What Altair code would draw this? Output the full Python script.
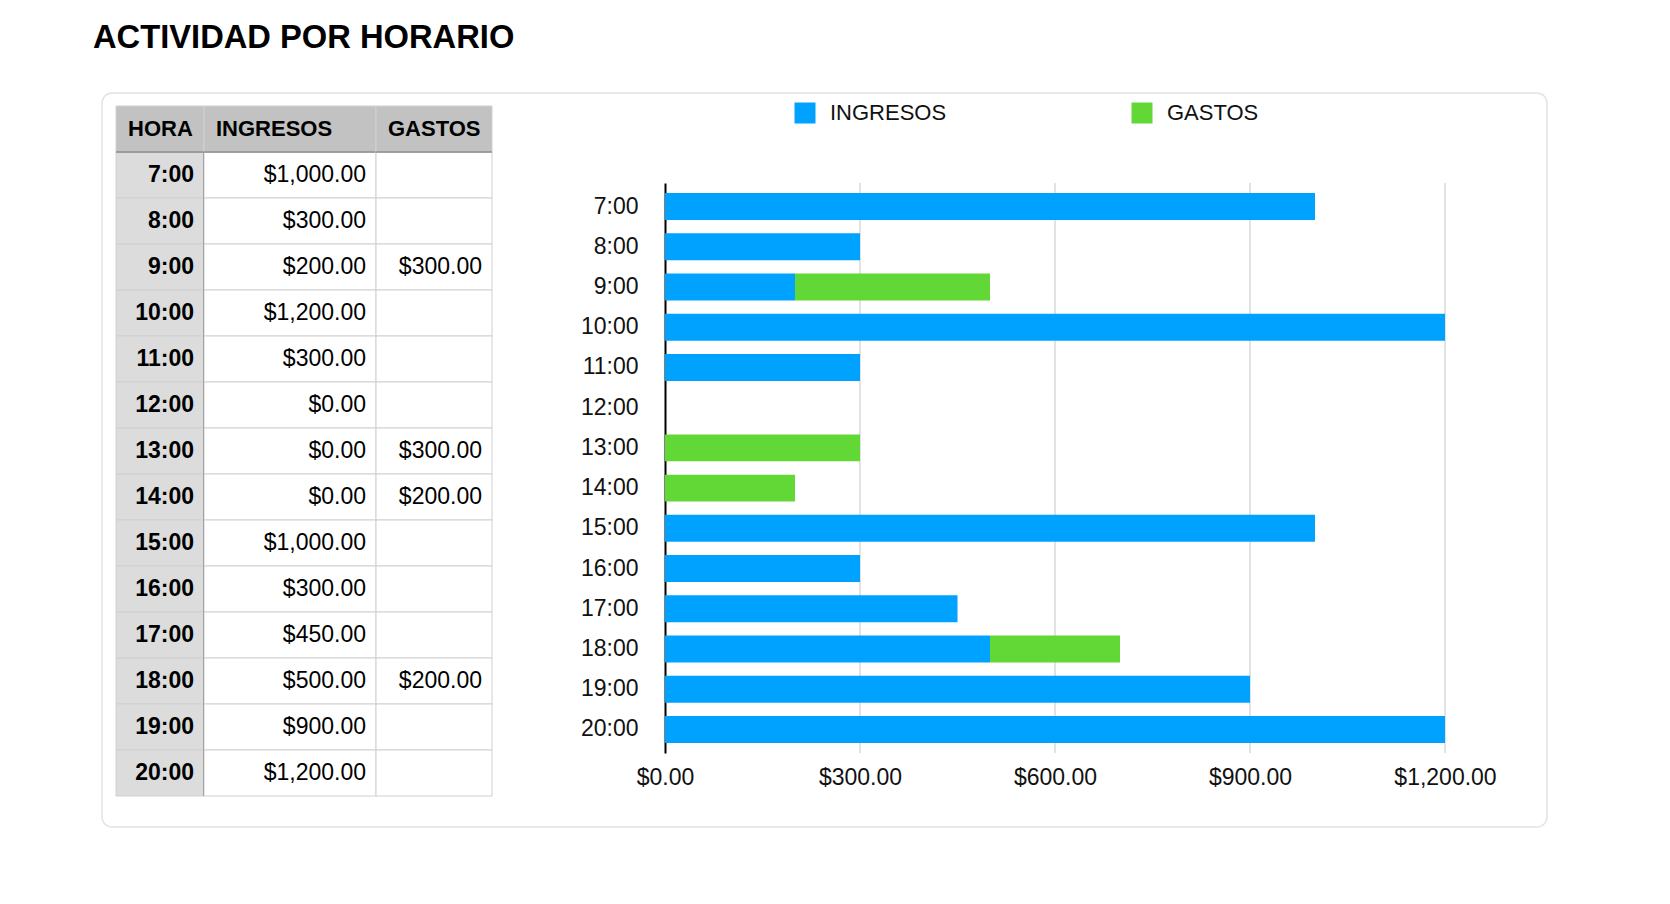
import altair as alt
import pandas as pd

# ---------------- data ----------------
horas = ["7:00", "8:00", "9:00", "10:00", "11:00", "12:00", "13:00",
         "14:00", "15:00", "16:00", "17:00", "18:00", "19:00", "20:00"]
ingresos = [1000, 300, 200, 1200, 300, 0, 0, 0, 1000, 300, 450, 500, 900, 1200]
gastos = [None, None, 300, None, None, None, 300, 200, None, None, None, 200, None, None]
series = ["INGRESOS", "GASTOS"]
colores = ["#00a2ff", "#61d836"]
cabeceras = ["HORA", "INGRESOS", "GASTOS"]
ticks_x = [0, 300, 600, 900, 1200]
titulo = "ACTIVIDAD POR HORARIO"

FONT = "Liberation Sans"
ROW_H = 46
filas = ["__cab__"] + horas
TABLE_H = ROW_H * len(filas)


def money(v):
    return "" if v is None else "${:,.2f}".format(v)


def table_column(header, cells, width, body_fill, body_bold, first=False, gap=0):
    df = pd.DataFrame({
        "fila": filas,
        "texto": [header] + cells,
        "tipo": ["header"] + ["body"] * len(cells),
    })
    ysc = alt.Y("fila:N", sort=filas, axis=None,
                scale=alt.Scale(paddingInner=0, paddingOuter=0))
    base = alt.Chart(df).encode(y=ysc)
    rects = base.mark_rect(stroke="#d0d0d0", strokeWidth=1).encode(
        x=alt.value(0), x2=alt.value(width),
        fill=alt.condition("datum.tipo == 'header'", alt.value("#c1c2c1"), alt.value(body_fill)),
    )
    head = base.transform_filter("datum.tipo == 'header'").mark_text(
        align="left", baseline="middle", font=FONT, fontSize=22, fontWeight="bold", color="#000"
    ).encode(x=alt.value(12), text="texto:N")
    body = base.transform_filter("datum.tipo == 'body'").mark_text(
        align="right", baseline="middle", font=FONT, fontSize=23,
        fontWeight="bold" if body_bold else "normal", color="#000"
    ).encode(x=alt.value(width - 10), text="texto:N")
    one = alt.Chart(pd.DataFrame({"k": [0]}))
    hline = one.mark_rule(color="#8a8a8a", strokeWidth=1.5).encode(
        x=alt.value(0), x2=alt.value(width), y=alt.value(ROW_H))
    layers = [rects, head, body, hline]
    if first:
        card = one.mark_rect(fill="white", stroke="#e3e3e3", strokeWidth=1.5, cornerRadius=10).encode(
            x=alt.value(-14), x2=alt.value(1431), y=alt.value(-13), y2=alt.value(721))
        vline = one.mark_rule(color="#555555", strokeWidth=1.5).encode(
            x=alt.value(width), y=alt.value(ROW_H), y2=alt.value(TABLE_H))
        layers = [card] + layers + [vline]
    return alt.layer(*layers).properties(width=width + gap, height=TABLE_H)


col_hora = table_column(cabeceras[0], horas, 88, "#dcdcdc", True, first=True)
col_ing = table_column(cabeceras[1], [money(v) for v in ingresos], 172, "#ffffff", False)
col_gas = table_column(cabeceras[2], [money(v) for v in gastos], 116, "#ffffff", False, gap=173)

# ---------------- bar chart ----------------
rows = []
for h, i, g in zip(horas, ingresos, gastos):
    rows.append({"hora": h, "serie": series[0], "valor": i, "orden": 0})
    if g is not None:
        rows.append({"hora": h, "serie": series[1], "valor": g, "orden": 1})
df_bar = pd.DataFrame(rows)

xscale = alt.Scale(domain=[0, 1200], nice=False)

grid = alt.Chart(pd.DataFrame({"t": ticks_x[1:]})).mark_rule(
    color="#d9d9d9", strokeWidth=1.5
).encode(
    x=alt.X("t:Q", scale=xscale, title=None),
    y=alt.value(77), y2=alt.value(647),
)

bars = alt.Chart(df_bar).mark_bar().encode(
    y=alt.Y("hora:N", sort=horas, title=None,
            scale=alt.Scale(range=[77, 647], paddingInner=0.33, paddingOuter=0.25),
            axis=alt.Axis(labelFont=FONT, labelFontSize=23, labelColor="#111",
                          labelPadding=27, ticks=False, domainColor="#000",
                          domainWidth=2, grid=False)),
    x=alt.X("valor:Q", stack="zero", title=None, scale=xscale,
            axis=alt.Axis(values=ticks_x, format="$,.2f", labelFont=FONT,
                          labelFontSize=23, labelColor="#111", labelPadding=13,
                          labelFlush=False, labelOverlap=False,
                          domain=False, ticks=False, grid=False)),
    color=alt.Color("serie:N", scale=alt.Scale(domain=series, range=colores),
                    legend=alt.Legend(orient="none", legendX=678, legendY=-4,
                                      direction="horizontal", title=None,
                                      symbolType="square", symbolSize=441,
                                      symbolStrokeWidth=0, symbolOpacity=1,
                                      labelFont=FONT, labelFontSize=22,
                                      labelColor="#111", labelOffset=14,
                                      columnPadding=184, padding=0)),
    order=alt.Order("orden:Q"),
)

bar_chart = alt.layer(grid, bars).properties(width=780, height=647)

chart = alt.hconcat(col_hora, col_ing, col_gas, bar_chart, spacing=0, bounds="flush").properties(
    title=alt.TitleParams(text=titulo, anchor="start", frame="group", font=FONT,
                          fontSize=32.7, fontWeight="bold", color="#000",
                          dx=-23, offset=37.5),
    padding={"left": 85, "top": 14, "right": 10, "bottom": 10},
).configure(background="white").configure_view(stroke="transparent", strokeWidth=0)

chart.save("out.html", embed_options={"renderer": "svg", "actions": False})
